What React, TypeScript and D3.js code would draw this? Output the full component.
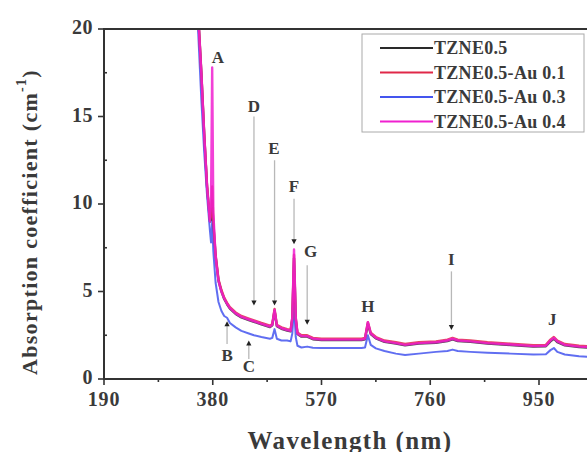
import React from "react";
import * as d3 from "d3";

// ---------- DATA ----------
const wavelengths = [
  350, 355, 360, 365, 370, 375, 377, 379, 381, 385, 390, 395, 400, 405, 410, 420, 430, 443, 452, 465,
  480, 484, 488, 492, 500, 510, 516, 519, 522, 525, 528, 535, 545, 555, 570, 600, 640, 646, 651, 656,
  665, 680, 700, 716, 740, 770, 790, 799, 808, 830, 860, 900, 940, 962, 970, 976, 982, 995, 1020, 1050,
  1080, 1100,
];

const tzne05 = [
  24.0, 20.5, 17.5, 14.0, 11.0, 9.0, 9.1, 10.2, 8.8, 7.0, 5.62, 5.02, 4.57, 4.27, 4.02, 3.72, 3.52, 3.37, 3.27, 3.12,
  2.97, 3.07, 3.9, 3.02, 2.87, 2.77, 2.72, 3.4, 6.9, 3.4, 2.57, 2.42, 2.42, 2.27, 2.22, 2.22, 2.22, 2.27, 3.15, 2.57,
  2.32, 2.12, 2.02, 1.92, 2.02, 2.07, 2.17, 2.27, 2.17, 2.12, 2.02, 1.94, 1.85, 1.87, 2.15, 2.3, 2.1, 1.92, 1.82, 1.77,
  1.74, 1.72,
];

const au01 = [
  24.2, 20.6, 17.6, 14.1, 11.1, 9.1, 9.3, 11.0, 9.0, 7.1, 5.7, 5.1, 4.65, 4.35, 4.1, 3.8, 3.6, 3.45, 3.35, 3.2,
  3.05, 3.15, 4.0, 3.1, 2.95, 2.85, 2.8, 3.5, 7.1, 3.5, 2.65, 2.5, 2.5, 2.35, 2.3, 2.3, 2.3, 2.35, 3.25, 2.65,
  2.4, 2.2, 2.1, 2.0, 2.1, 2.15, 2.25, 2.35, 2.25, 2.2, 2.1, 2.02, 1.93, 1.95, 2.25, 2.4, 2.2, 2.0, 1.9, 1.85,
  1.82, 1.8,
];

const au03 = [
  23.0, 19.5, 16.0, 13.0, 10.5, 8.5, 7.8, 9.0, 7.3, 5.5, 4.4, 3.9, 3.6, 3.5, 3.2, 2.95, 2.75, 2.6, 2.5, 2.4,
  2.3, 2.35, 2.85, 2.3, 2.2, 2.2, 2.15, 2.6, 4.2, 2.4, 1.9, 1.8, 1.85, 1.78, 1.77, 1.77, 1.77, 1.8, 2.5, 1.95,
  1.75, 1.6, 1.45, 1.37, 1.45, 1.55, 1.6, 1.68, 1.6, 1.55, 1.5, 1.45, 1.4, 1.42, 1.65, 1.77, 1.55, 1.4, 1.3, 1.25,
  1.22, 1.2,
];

const au04 = [
  24.0, 20.5, 17.5, 14.0, 11.0, 9.0, 10.0, 17.8, 9.5, 7.0, 5.6, 5.0, 4.6, 4.3, 4.05, 3.75, 3.55, 3.4, 3.3, 3.15,
  3.0, 3.1, 3.95, 3.05, 2.9, 2.8, 2.75, 3.5, 7.4, 3.5, 2.6, 2.45, 2.45, 2.3, 2.25, 2.25, 2.25, 2.3, 3.25, 2.6,
  2.35, 2.15, 2.05, 1.95, 2.05, 2.1, 2.2, 2.3, 2.2, 2.15, 2.05, 1.97, 1.88, 1.9, 2.2, 2.35, 2.15, 1.95, 1.85, 1.8,
  1.78, 1.75,
];

const seriesNames = ["TZNE0.5", "TZNE0.5-Au 0.1", "TZNE0.5-Au 0.3", "TZNE0.5-Au 0.4"];
const seriesColors = ["#2a2a2a", "#e02848", "#4455ee", "#f020d0"];
const seriesValues = [tzne05, au01, au03, au04];
const drawOrder = [0, 2, 1, 3];

const xTicks = [190, 380, 570, 760, 950];
const xMinorTicks = [285, 475, 665, 855, 1045];
const yTicks = [0, 5, 10, 15, 20];
const yMinorTicks = [2.5, 7.5, 12.5, 17.5];

// annotations: label, wavelength of label, label value, arrow from/to values (null = no arrow), arrow wavelength
const annLabels = ["A", "B", "C", "D", "E", "F", "G", "H", "I", "J"];
const annLabelX = [389, 405, 443, 452, 487, 522, 551, 651, 797, 973];
const annLabelY = [18.35, 1.35, 0.72, 15.6, 13.2, 11.0, 7.3, 4.15, 6.85, 3.4];
const annArrowX = [null, 405, 443, 452, 488, 522, 545, null, 797, null];
const annArrowFrom = [null, 2.0, 1.15, 15.0, 12.5, 10.3, 6.5, null, 6.15, null];
const annArrowTo = [null, 3.3, 2.2, 4.2, 4.2, 7.7, 3.1, null, 2.8, null];

// ---------- LAYOUT ----------
const W = 587;
const H = 452;
const left = 104;
const top = 29;
const bottom = 379;
const pxPerNm = 108.75 / 190;

const x = d3.scaleLinear().domain([190, 1100]).range([left, left + (1100 - 190) * pxPerNm]);
const y = d3.scaleLinear().domain([0, 20]).range([bottom, top]);

const serif = "'Liberation Serif', 'Times New Roman', serif";

export default function App() {
  const line = d3
    .line<number>()
    .x((_, i) => x(wavelengths[i]))
    .y((d) => y(d))
    .curve(d3.curveLinear);

  return (
    <svg
      width={W}
      height={H}
      style={{ position: "absolute", left: 0, top: 0, background: "#fff" }}
      fontFamily={serif}
    >
      <defs>
        <clipPath id="plotclip">
          <rect x={left} y={top} width={W - left} height={bottom - top} />
        </clipPath>
      </defs>

      {/* series */}
      <g clipPath="url(#plotclip)">
        {drawOrder.map((k) => (
          <path
            key={k}
            d={line(seriesValues[k]) || ""}
            fill="none"
            stroke={seriesColors[k]}
            strokeWidth={k === 2 ? 2 : 2.4}
            strokeOpacity={0.85}
            strokeLinejoin="round"
          />
        ))}
      </g>

      {/* annotations */}
      {annLabels.map((lab, i) => {
        const ax = annArrowX[i];
        const f = annArrowFrom[i];
        const t = annArrowTo[i];
        const hasArrow = ax !== null && f !== null && t !== null;
        let arrow = null;
        if (hasArrow) {
          const px = x(ax as number);
          const y1 = y(f as number);
          const y2 = y(t as number);
          const dir = y2 > y1 ? 1 : -1;
          arrow = (
            <g>
              <line x1={px} x2={px} y1={y1} y2={y2 - dir * 4} stroke="#b8b8b8" strokeWidth={1.3} />
              <path
                d={`M${px - 2.6},${y2 - dir * 5} L${px + 2.6},${y2 - dir * 5} L${px},${y2} Z`}
                fill="#222"
              />
            </g>
          );
        }
        return (
          <g key={lab}>
            {arrow}
            <text
              x={x(annLabelX[i])}
              y={y(annLabelY[i])}
              textAnchor="middle"
              dominantBaseline="central"
              fontSize={17}
              fontWeight="bold"
              fill="#3a3a3a"
            >
              {lab}
            </text>
          </g>
        );
      })}

      {/* axes */}
      <line x1={left} x2={W} y1={top} y2={top} stroke="#333" strokeWidth={2} />
      <line x1={left} x2={left} y1={top - 1} y2={bottom + 1} stroke="#333" strokeWidth={2} />
      <line x1={left - 1} x2={W} y1={bottom} y2={bottom} stroke="#333" strokeWidth={2} />

      {yTicks.map((v) => (
        <g key={"yt" + v}>
          <line x1={left - 6} x2={left} y1={y(v)} y2={y(v)} stroke="#333" strokeWidth={1.6} />
          <text
            x={left - 11}
            y={y(v) - 2}
            textAnchor="end"
            dominantBaseline="central"
            fontSize={20}
            fontWeight="bold"
            fill="#3a3a3a"
            letterSpacing={0.5}
          >
            {v}
          </text>
        </g>
      ))}
      {yMinorTicks.map((v) => (
        <line key={"ym" + v} x1={left} x2={left + 3} y1={y(v)} y2={y(v)} stroke="#333" strokeWidth={1.6} />
      ))}
      {xTicks.map((v) => (
        <g key={"xt" + v}>
          <line x1={x(v)} x2={x(v)} y1={bottom} y2={bottom + 6} stroke="#333" strokeWidth={1.6} />
          <text
            x={x(v)}
            y={bottom + 20}
            textAnchor="middle"
            dominantBaseline="central"
            fontSize={20}
            fontWeight="bold"
            fill="#3a3a3a"
            letterSpacing={0.8}
          >
            {v}
          </text>
        </g>
      ))}
      {xMinorTicks.map((v) => (
        <line key={"xm" + v} x1={x(v)} x2={x(v)} y1={bottom} y2={bottom + 3} stroke="#333" strokeWidth={1.6} />
      ))}

      {/* axis titles */}
      <text
        x={350}
        y={440}
        textAnchor="middle"
        dominantBaseline="central"
        fontSize={25}
        fontWeight="bold"
        fill="#3a3a3a"
        letterSpacing={1.4}
      >
        Wavelength (nm)
      </text>
      <text
        transform={`translate(29, 222) rotate(-90)`}
        textAnchor="middle"
        dominantBaseline="central"
        fontSize={22}
        fontWeight="bold"
        fill="#3a3a3a"
        letterSpacing={1.3}
      >
        Absorption coefficient (cm
        <tspan baselineShift="super" fontSize={14}>
          -1
        </tspan>
        )
      </text>

      {/* legend */}
      <rect x={362} y={34} width={222} height={98} fill="#fff" stroke="#aaa" strokeWidth={1} />
      {seriesNames.map((name, i) => (
        <g key={name}>
          <line
            x1={380}
            x2={433}
            y1={48 + i * 24.5}
            y2={48 + i * 24.5}
            stroke={seriesColors[i]}
            strokeWidth={2}
          />
          <text
            x={434}
            y={48 + i * 24.5}
            dominantBaseline="central"
            fontSize={18}
            fontWeight="bold"
            fill="#3a3a3a"
            letterSpacing={0.3}
          >
            {name}
          </text>
        </g>
      ))}
    </svg>
  );
}
